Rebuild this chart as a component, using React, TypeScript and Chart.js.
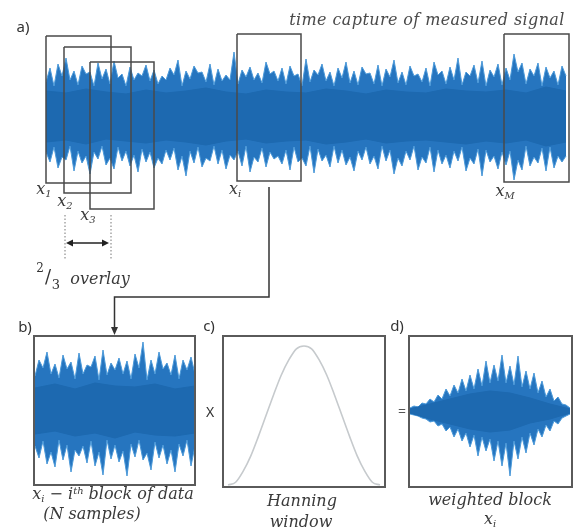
import React, { useEffect, useRef } from "react";
import { Chart, registerables } from "chart.js";

Chart.register(...registerables);

// ================= DATA =================
// a) full time capture: envelope of the measured signal (amplitude, arbitrary units)
const captureStep = 4; // samples between envelope points
const captureUpper = [
  34, 48, 30, 52, 40, 58, 36, 45, 31, 50,
  42, 44, 30, 53, 37, 47, 32, 55, 38, 42,
  30, 49, 36, 43, 40, 51, 35, 46, 32, 40,
  36, 48, 41, 56, 30, 45, 37, 50, 43, 44,
  34, 52, 31, 47, 35, 41, 36, 64, 32, 46,
  39, 49, 36, 43, 33, 54, 42, 45, 35, 48,
  32, 50, 40, 42, 30, 57, 34, 46, 41, 52,
  35, 44, 30, 48, 38, 54, 33, 45, 31, 49,
  42, 43, 32, 51, 30, 47, 39, 56, 33, 44,
  31, 50, 40, 42, 34, 48, 30, 54, 41, 45,
  32, 49, 36, 58, 31, 44, 40, 51, 33, 55,
  30, 46, 39, 52, 31, 48, 36, 62, 44, 53,
  32, 47, 40, 53, 30, 49, 38, 45, 31, 50, 40,
];
const captureLower = [
  36, 46, 31, 52, 41, 44, 30, 55, 35, 47,
  40, 58, 36, 43, 30, 49, 42, 53, 31, 45,
  35, 50, 39, 56, 33, 46, 36, 52, 42, 48,
  34, 44, 32, 54, 40, 60, 35, 47, 31, 51,
  42, 45, 30, 48, 34, 53, 39, 44, 35, 50,
  30, 56, 41, 46, 32, 51, 36, 43, 40, 48,
  34, 54, 31, 46, 42, 50, 30, 57, 33, 45,
  39, 51, 30, 47, 34, 49, 41, 55, 35, 44,
  31, 48, 40, 53, 30, 45, 34, 58, 42, 50,
  35, 44, 30, 54, 41, 47, 31, 56, 34, 48,
  39, 52, 35, 45, 31, 55, 42, 48, 33, 60,
  34, 46, 40, 53, 36, 49, 35, 64, 44, 54,
  30, 50, 41, 47, 32, 55, 31, 52, 40, 46, 40,
];
const coreStep = 20;
const captureCoreUpper = [25, 23, 27, 24, 22, 26, 23, 25, 28, 24, 22, 26, 24, 23, 27, 25, 22, 26, 24, 23, 27, 25, 24, 26, 23, 29, 25];
const captureCoreLower = [26, 24, 28, 23, 25, 27, 24, 26, 29, 25, 23, 27, 25, 24, 28, 26, 23, 27, 25, 24, 26, 28, 25, 27, 24, 30, 26];

// blocks (start / end sample of each block)
const blockNames = ["1", "2", "3", "i", "M"];
const blockStart = [0, 18, 44, 191, 458];
const blockEnd = [65, 85, 108, 255, 523];

// b) i-th block of data (N samples)
const blockStep = 4;
const blockUpper = [34, 50, 42, 58, 36, 46, 32, 55, 41, 48, 31, 57, 36, 45, 43, 54, 30, 60, 35, 47, 40, 52, 36, 49, 31, 56, 42, 68, 30, 50, 36, 58, 41, 47, 35, 55, 31, 50, 40, 53, 36];
const blockLower = [36, 48, 31, 54, 42, 57, 30, 50, 35, 62, 40, 46, 36, 53, 31, 56, 42, 65, 30, 49, 35, 52, 41, 66, 34, 47, 30, 50, 43, 60, 32, 48, 35, 54, 40, 62, 34, 46, 30, 56, 36];
const blockCoreUpper = [22, 26, 21, 27, 24, 23, 26, 21, 24];
const blockCoreLower = [24, 21, 26, 23, 28, 22, 25, 26, 23];

// c) Hanning window
const hanning = [0, 0.02, 0.1, 0.21, 0.35, 0.5, 0.65, 0.79, 0.9, 0.98, 1, 0.98, 0.9, 0.79, 0.65, 0.5, 0.35, 0.21, 0.1, 0.02, 0];

// d) weighted block
const weightedUpper = [3, 5, 4, 8, 7, 12, 9, 16, 12, 22, 15, 26, 18, 32, 20, 36, 22, 42, 25, 50, 28, 46, 30, 56, 28, 45, 26, 55, 24, 40, 22, 38, 18, 30, 14, 22, 10, 14, 7, 6, 3];
const weightedLower = [3, 4, 5, 7, 8, 11, 10, 15, 13, 20, 16, 26, 18, 30, 22, 36, 24, 45, 26, 40, 28, 50, 30, 55, 32, 65, 30, 48, 26, 42, 22, 34, 18, 26, 14, 20, 10, 13, 7, 5, 3];
const weightedCoreUpper = [2, 7, 12, 17, 20, 18, 13, 7, 2];
const weightedCoreLower = [2, 8, 13, 18, 21, 19, 12, 8, 2];

// ================= STYLE / LAYOUT =================
const BLUE_EDGE = "#4b99d9";
const BLUE_OUTER = "#2675bf";
const BLUE_CORE = "#1d69b0";
const FRAME = "#5a5a5a";
const SERIF = '"DejaVu Serif", "Liberation Serif", serif';
const SANS = '"Noto Sans", "Open Sans", sans-serif';

// vertical extents of the overlay frames in panel a (staggered for readability)
const frameTop = [80, 69, 54, 82, 82];
const frameBottom = [-67, -77, -93, -65, -66];

const A = { left: 40, top: 28, width: 533, height: 187, pad: { left: 6, right: 4, top: 6, bottom: 6 } };
const A_X0 = A.left + A.pad.left; // pixel of sample 0
const A_Y0 = 116; // pixel of zero amplitude

function band(upper: number[], lower: number[], step: number, fillColor: string, edgeColor: string, order: number) {
  return [
    {
      data: upper.map((v, i) => ({ x: i * step, y: v })),
      borderColor: edgeColor,
      borderWidth: 1,
      pointRadius: 0,
      fill: false,
      order,
    },
    {
      data: lower.map((v, i) => ({ x: i * step, y: -v })),
      borderColor: edgeColor,
      borderWidth: 1,
      backgroundColor: fillColor,
      pointRadius: 0,
      fill: "-1",
      order,
    },
  ];
}

function baseOptions(xMin: number, xMax: number, yMin: number, yMax: number, padding: any = 0) {
  return {
    responsive: false,
    maintainAspectRatio: false,
    animation: false as const,
    events: [] as any[],
    layout: { padding },
    plugins: { legend: { display: false }, tooltip: { enabled: false } },
    elements: { point: { radius: 0 }, line: { tension: 0 } },
    scales: {
      x: { type: "linear" as const, display: false, min: xMin, max: xMax },
      y: { type: "linear" as const, display: false, min: yMin, max: yMax },
    },
  };
}

function configA(): any {
  const frames = blockNames.map((n, k) => ({
    data: [
      { x: blockStart[k], y: frameTop[k] },
      { x: blockEnd[k], y: frameTop[k] },
      { x: blockEnd[k], y: frameBottom[k] },
      { x: blockStart[k], y: frameBottom[k] },
      { x: blockStart[k], y: frameTop[k] },
    ],
    borderColor: "#4a4a4a",
    borderWidth: 1.5,
    pointRadius: 0,
    fill: false,
    clip: false,
    order: 0,
  }));
  const innerH = A.height - A.pad.top - A.pad.bottom;
  const yMax = A_Y0 - (A.top + A.pad.top);
  const yMin = yMax - innerH;
  const innerW = A.width - A.pad.left - A.pad.right;
  return {
    type: "line",
    data: {
      datasets: [
        ...band(captureUpper, captureLower, captureStep, BLUE_OUTER, BLUE_EDGE, 2),
        ...band(captureCoreUpper, captureCoreLower, coreStep, BLUE_CORE, BLUE_CORE, 1),
        ...frames,
      ],
    },
    options: baseOptions(0, innerW, yMin, yMax, A.pad),
  };
}

function configB(): any {
  return {
    type: "line",
    data: {
      datasets: [
        ...band(blockUpper, blockLower, blockStep, BLUE_OUTER, BLUE_EDGE, 2),
        ...band(blockCoreUpper, blockCoreLower, 20, BLUE_CORE, BLUE_CORE, 1),
      ],
    },
    options: baseOptions(0, 159, -74, 73),
  };
}

function configC(): any {
  return {
    type: "line",
    data: {
      datasets: [
        {
          data: hanning.map((v, i) => ({ x: i, y: v })),
          borderColor: "#c6cacd",
          borderWidth: 1.6,
          pointRadius: 0,
          fill: false,
          cubicInterpolationMode: "monotone",
          clip: false,
        },
      ],
    },
    options: baseOptions(-0.53, 20.53, -0.007, 1.065),
  };
}

function configD(): any {
  return {
    type: "line",
    data: {
      datasets: [
        ...band(weightedUpper, weightedLower, blockStep, BLUE_OUTER, BLUE_EDGE, 2),
        ...band(weightedCoreUpper, weightedCoreLower, 20, BLUE_CORE, BLUE_CORE, 1),
      ],
    },
    options: baseOptions(0, 161, -75, 74),
  };
}

function ChartCanvas({ width, height, config, style }: { width: number; height: number; config: () => any; style?: any }) {
  const ref = useRef<HTMLCanvasElement>(null);
  useEffect(() => {
    const chart = new Chart(ref.current as HTMLCanvasElement, config());
    return () => chart.destroy();
  }, []);
  return <canvas ref={ref} width={width} height={height} style={{ display: "block", width, height, ...style }} />;
}

function Framed({ left, top, width, height, config }: any) {
  const b = 2;
  return (
    <div
      style={{
        position: "absolute",
        left,
        top,
        width,
        height,
        boxSizing: "border-box",
        border: `${b}px solid ${FRAME}`,
        background: "#fff",
      }}
    >
      <ChartCanvas width={width - 2 * b} height={height - 2 * b} config={config} />
    </div>
  );
}

function Txt({ x, y, children, size = 16, italic = true, family = SERIF, color = "#3a3a3a", ls = 0 }: any) {
  return (
    <div
      style={{
        position: "absolute",
        left: x,
        top: y,
        transform: "translate(-50%, -50%)",
        whiteSpace: "nowrap",
        fontFamily: family,
        fontStyle: italic ? "italic" : "normal",
        fontSize: size,
        color,
        letterSpacing: ls,
        lineHeight: 1,
      }}
    >
      {children}
    </div>
  );
}

const Sub = ({ children }: any) => (
  <span style={{ fontSize: "0.62em", position: "relative", top: "0.35em" }}>{children}</span>
);
const Sup = ({ children }: any) => (
  <span style={{ fontSize: "0.62em", position: "relative", top: "-0.55em" }}>{children}</span>
);

export default function App() {
  // annotation geometry derived from the block positions
  const px = (s: number) => A_X0 + s;
  const iBlockCenter = px((blockStart[3] + blockEnd[3]) / 2);
  const ovLeft = px(blockStart[1]);
  const ovRight = px(blockEnd[0]);
  const B = { left: 33, top: 335, width: 163, height: 151 };
  const bCenter = B.left + B.width / 2;
  const elbowY = 297;
  const arrowY = 243;

  return (
    <div
      style={{
        position: "fixed",
        left: 0,
        top: 0,
        width: 573,
        height: 531,
        background: "#fff",
        overflow: "hidden",
      }}
    >
      <div style={{ position: "absolute", left: A.left, top: A.top }}>
        <ChartCanvas width={A.width} height={A.height} config={configA} />
      </div>
      <Framed left={B.left} top={B.top} width={B.width} height={B.height} config={configB} />
      <Framed left={222} top={335} width={164} height={153} config={configC} />
      <Framed left={408} top={335} width={165} height={153} config={configD} />

      <svg width={573} height={531} style={{ position: "absolute", left: 0, top: 0, pointerEvents: "none" }}>
        {/* overlay span markers */}
        <line x1={ovLeft + 1} y1={215} x2={ovLeft + 1} y2={260} stroke="#777" strokeWidth={1} strokeDasharray="1.5 2" />
        <line x1={ovRight} y1={215} x2={ovRight} y2={260} stroke="#777" strokeWidth={1} strokeDasharray="1.5 2" />
        <line x1={ovLeft + 6} y1={arrowY} x2={ovRight - 5} y2={arrowY} stroke="#222" strokeWidth={1.5} />
        <polygon points={`${ovLeft + 2},${arrowY} ${ovLeft + 9},${arrowY - 3.5} ${ovLeft + 9},${arrowY + 3.5}`} fill="#222" />
        <polygon points={`${ovRight - 2},${arrowY} ${ovRight - 9},${arrowY - 3.5} ${ovRight - 9},${arrowY + 3.5}`} fill="#222" />
        {/* connector from i-th block to panel b */}
        <polyline
          points={`${iBlockCenter},187 ${iBlockCenter},${elbowY} ${bCenter},${elbowY} ${bCenter},${B.top - 6}`}
          fill="none"
          stroke="#333"
          strokeWidth={1.5}
        />
        <polygon points={`${bCenter},${B.top} ${bCenter - 3.5},${B.top - 8} ${bCenter + 3.5},${B.top - 8}`} fill="#333" />
      </svg>

      {/* panel letters */}
      <Txt x={23} y={26} size={15} italic={false} family={SANS} color="#333">a)</Txt>
      <Txt x={25} y={326} size={15} italic={false} family={SANS} color="#333">b)</Txt>
      <Txt x={209} y={325} size={15} italic={false} family={SANS} color="#333">c)</Txt>
      <Txt x={397} y={325} size={15} italic={false} family={SANS} color="#333">d)</Txt>

      <Txt x={427} y={20} size={16} color="#4a4a4a" ls={0.4}>time capture of measured signal</Txt>

      {/* block labels */}
      <Txt x={44} y={189}>x<Sub>1</Sub></Txt>
      <Txt x={65} y={201}>x<Sub>2</Sub></Txt>
      <Txt x={88} y={215}>x<Sub>3</Sub></Txt>
      <Txt x={235} y={189}>x<Sub>i</Sub></Txt>
      <Txt x={505} y={191}>x<Sub>M</Sub></Txt>

      {/* 2/3 overlay */}
      <Txt x={40} y={268} size={12} italic={false} color="#333">2</Txt>
      <Txt x={48} y={277} size={18} italic={false} color="#333">/</Txt>
      <Txt x={56} y={284} size={13} italic={false} color="#333">3</Txt>
      <Txt x={100} y={279}>overlay</Txt>

      {/* operators */}
      <Txt x={210} y={412} size={14} italic={false} family={SANS} color="#333">X</Txt>
      <Txt x={402} y={411} size={14} italic={false} family={SANS} color="#555">=</Txt>

      {/* captions */}
      <Txt x={113} y={494}>
        x<Sub>i</Sub> − i<Sup>th</Sup> block of data
      </Txt>
      <Txt x={92} y={514}>(N samples)</Txt>
      <Txt x={302} y={501}>Hanning</Txt>
      <Txt x={301} y={522}>window</Txt>
      <Txt x={490} y={500}>weighted block</Txt>
      <Txt x={490} y={519}>x<Sub>i</Sub></Txt>
    </div>
  );
}
